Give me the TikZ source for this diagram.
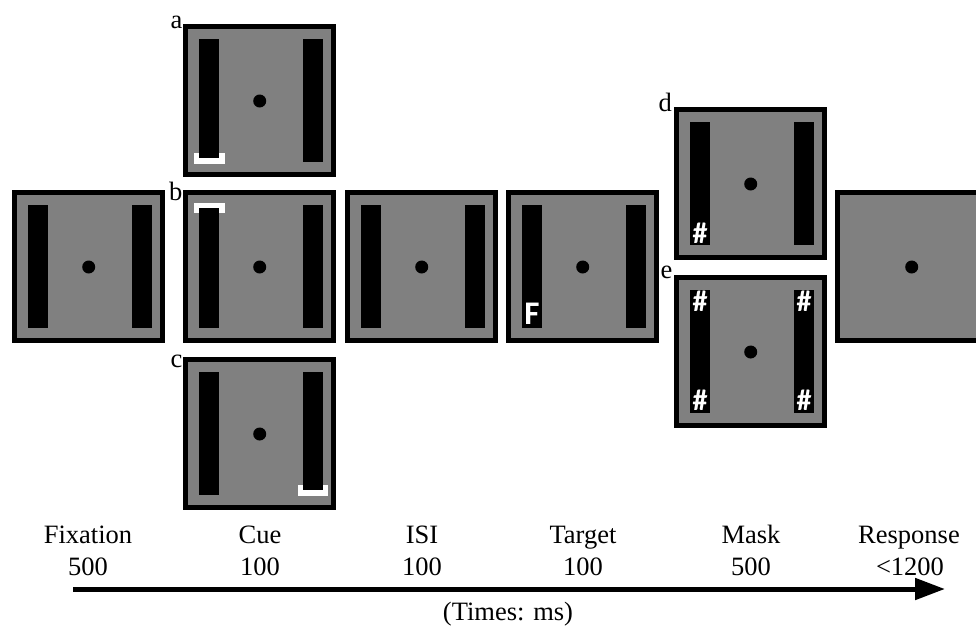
\documentclass[tikz,border=0pt]{standalone}
\usepackage{fontspec}
\setmainfont{Liberation Serif}
\newfontfamily\hashfont{Carlito}
\usetikzlibrary{arrows.meta}
\definecolor{screengray}{RGB}{128,128,128}
\tikzset{
  screen/.style={draw=black, line width=5pt, fill=screengray},
  barfill/.style={fill=black},
  cuebracket/.style={fill=white},
  fixdot/.style={fill=black},
  hashlbl/.style={text=white, inner sep=0pt, font=\hashfont\bfseries\fontsize{30}{30}\selectfont},
  letterlbl/.style={inner sep=0pt, anchor=base east, font=\fontsize{26.5}{28}\selectfont},
  timelbl/.style={inner sep=0pt, anchor=base, font=\fontsize{26.5}{28}\selectfont},
  timearrow/.style={line width=5pt, -{Triangle[length=30pt,width=21pt]}}
}
\newcommand\stimscreen[3]{%
  \begin{scope}[shift={(#2,#3)}]
    \path[screen] (2.5,2.5) rectangle (150.5,150.5);
    \coordinate (#1) at (76.7,77);
  \end{scope}}
\newcommand\stimdot[1]{\fill[fixdot] (#1) circle[radius=6.5];}
\newcommand\leftbar[4]{%
  \begin{scope}[shift={(#1,#2)}]\fill[barfill] (16,#3) rectangle (36,#4);\end{scope}}
\newcommand\rightbar[4]{%
  \begin{scope}[shift={(#1,#2)}]\fill[barfill] (120,#3) rectangle (140,#4);\end{scope}}
\begin{document}
\begin{tikzpicture}[x=1pt,y=-1pt]
\useasboundingbox (0,0) rectangle (976,627);
\clip (0,0) rectangle (976,627);

% Fixation
\stimscreen{fix}{12}{190}
\leftbar{12}{190}{15}{138}\rightbar{12}{190}{15}{138}
\stimdot{fix}

% Cue a
\stimscreen{cuea}{183}{24}
\begin{scope}[shift={(183,24)}]\fill[cuebracket] (11,129) rectangle (41.5,139.5);\end{scope}
\leftbar{183}{24}{15}{134}\rightbar{183}{24}{15}{138}
\stimdot{cuea}
% Cue b
\stimscreen{cueb}{183}{190}
\begin{scope}[shift={(183,190)}]\fill[cuebracket] (10.5,12.7) rectangle (41.5,22.7);\end{scope}
\leftbar{183}{190}{17.5}{138}\rightbar{183}{190}{15}{138}
\stimdot{cueb}
% Cue c
\stimscreen{cuec}{183}{357}
\begin{scope}[shift={(183,357)}]\fill[cuebracket] (115,128.3) rectangle (145,139);\end{scope}
\leftbar{183}{357}{15}{138}\rightbar{183}{357}{15}{133.3}
\stimdot{cuec}

% ISI
\stimscreen{isi}{345}{190}
\leftbar{345}{190}{15}{138}\rightbar{345}{190}{15}{138}
\stimdot{isi}

% Target
\stimscreen{tgt}{506}{190}
\leftbar{506}{190}{15}{138}\rightbar{506}{190}{15}{138}
\stimdot{tgt}
\node[hashlbl, font=\hashfont\bfseries\fontsize{33}{33}\selectfont] (tgtF) at (532,314) {F};

% Mask d
\stimscreen{maskd}{674}{107}
\leftbar{674}{107}{15}{138}\rightbar{674}{107}{15}{138}
\stimdot{maskd}
\node[hashlbl] (hd) at (700,233.3) {\#};
% Mask e
\stimscreen{maske}{674}{275}
\leftbar{674}{275}{15}{138}\rightbar{674}{275}{15}{138}
\stimdot{maske}
\node[hashlbl] (he1) at (700,301) {\#};
\node[hashlbl] (he2) at (700,400) {\#};
\node[hashlbl] (he3) at (804,301) {\#};
\node[hashlbl] (he4) at (804,400) {\#};

% Response
\stimscreen{resp}{835}{190}
\stimdot{resp}

% Letter labels
\node[letterlbl] (la) at (182.5,28) {a};
\node[letterlbl] (lb) at (182.5,200.5) {b};
\node[letterlbl] (lc) at (182.5,367) {c};
\node[letterlbl] (ld) at (672,111.7) {d};
\node[letterlbl] (le) at (672.5,278) {e};

% Timeline labels
\node[timelbl] (t1) at (88,543) {Fixation};
\node[timelbl] (d1) at (88,575) {500};
\node[timelbl] (t2) at (260,543) {Cue};
\node[timelbl] (d2) at (260,575) {100};
\node[timelbl] (t3) at (422,543) {ISI};
\node[timelbl] (d3) at (422,575) {100};
\node[timelbl] (t4) at (583,543) {Target};
\node[timelbl] (d4) at (583,575) {100};
\node[timelbl] (t5) at (751,543) {Mask};
\node[timelbl] (d5) at (751,575) {500};
\node[timelbl] (t6) at (909,543) {Response};
\node[timelbl] (d6) at (910,575) {<1200};

\coordinate (arrstart) at (73,589);
\coordinate (arrend) at (945,589);
\draw[timearrow] (arrstart) -- (arrend);
\node[timelbl] (unit) at (508,620) {(Times: ms)};
\end{tikzpicture}
\end{document}
